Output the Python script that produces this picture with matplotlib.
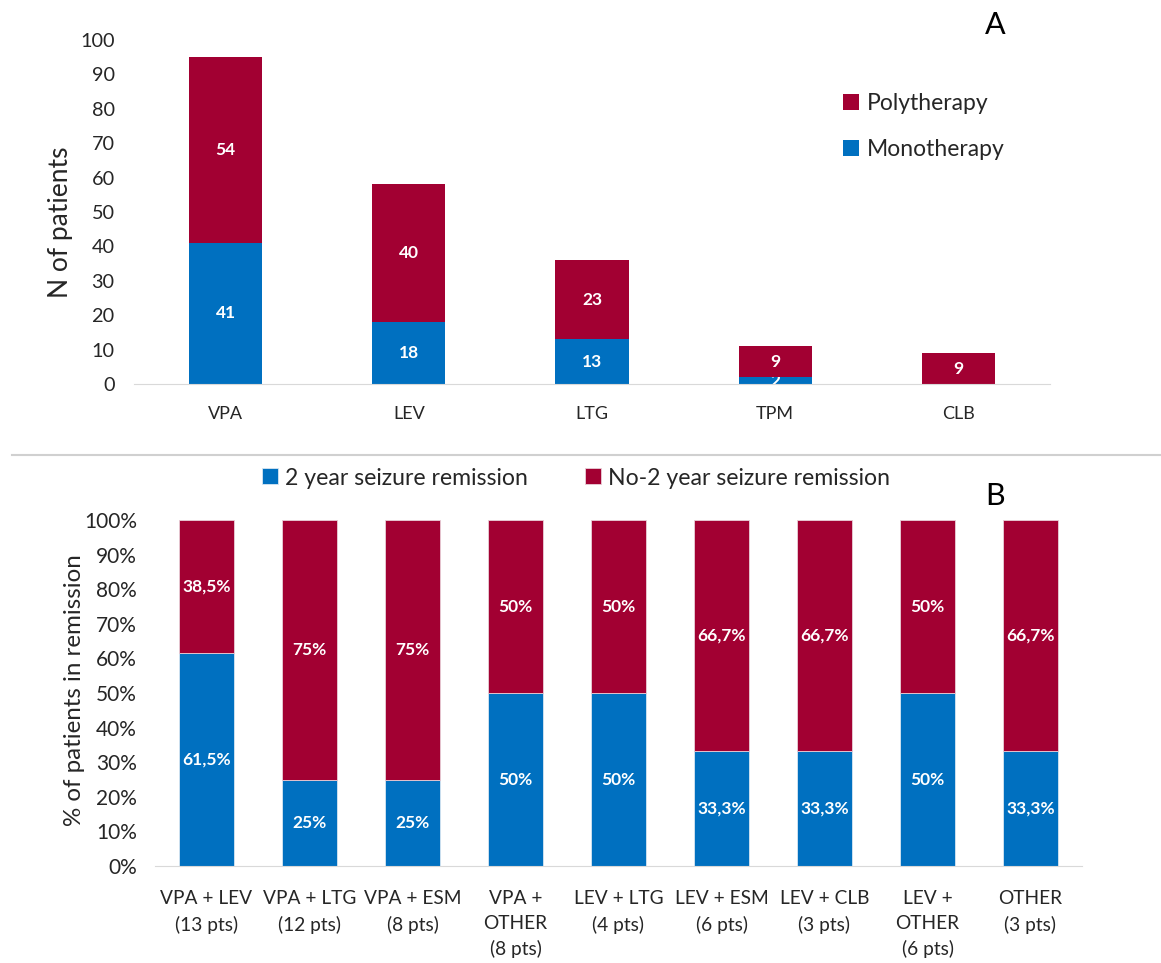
import matplotlib
matplotlib.use('Agg')
import matplotlib.pyplot as plt
from matplotlib.lines import Line2D
import numpy as np

plt.rcParams['font.family'] = ['Lato', 'DejaVu Sans']

# panel A data
drugs = ['VPA', 'LEV', 'LTG', 'TPM', 'CLB']
mono = [41, 18, 13, 2, 0]
poly = [54, 40, 23, 9, 9]

# panel B data (% with 2 year remission)
combos = ['VPA + LEV\n(13 pts)', 'VPA + LTG\n(12 pts)', 'VPA + ESM\n(8 pts)',
          'VPA +\nOTHER\n(8 pts)', 'LEV + LTG\n(4 pts)', 'LEV + ESM\n(6 pts)',
          'LEV + CLB\n(3 pts)', 'LEV +\nOTHER\n(6 pts)', 'OTHER\n(3 pts)']
remission = [61.5, 25, 25, 50, 50, 33.3, 33.3, 50, 33.3]
no_remission = [38.5, 75, 75, 50, 50, 66.7, 66.7, 50, 66.7]

BLUE = '#0070C0'
RED = '#A20032'
TXT = '#262626'

W, H = 1161, 963
fig = plt.figure(figsize=(W/100, H/100), dpi=100)

def px_axes(left, top, right, bottom):
    return fig.add_axes([left/W, 1-bottom/H, (right-left)/W, (bottom-top)/H])

def fmt(v):
    s = ('%.1f' % v).rstrip('0').rstrip('.')
    return s.replace('.', ',') + '%'

# ---- panel A ----
ax1 = px_axes(134, 40, 1050, 384)
x = np.arange(len(drugs))
b1 = ax1.bar(x, mono, 0.4, color=BLUE, zorder=1)
b2 = ax1.bar(x, poly, 0.4, bottom=mono, color=RED, zorder=2)
for i in range(len(drugs)):
    if mono[i] > 0:
        ax1.text(x[i], mono[i]/2, str(mono[i]), ha='center', va='center',
                 color='white', fontsize=12.5, fontweight='bold', zorder=1.5)
    ax1.text(x[i], mono[i] + poly[i]/2, str(poly[i]), ha='center', va='center',
             color='white', fontsize=12.5, fontweight='bold', zorder=3)
ax1.set_xlim(-0.5, len(drugs)-0.5)
ax1.set_ylim(0, 100)
ax1.set_yticks(range(0, 101, 10))
ax1.set_xticks(x)
ax1.set_xticklabels(drugs, fontsize=13)
ax1.tick_params(axis='y', labelsize=14.3, length=0, colors=TXT, pad=14)
ax1.tick_params(axis='x', length=0, colors=TXT, pad=16)
for s in ['top', 'right', 'left']:
    ax1.spines[s].set_visible(False)
ax1.spines['bottom'].set_color('#D9D9D9')
ax1.set_ylabel('N of patients', fontsize=19, color=TXT)
ax1.yaxis.set_label_coords(-0.0666, 0.471)
ax1.legend([b2, b1], ['Polytherapy', 'Monotherapy'], loc='upper left',
           bbox_to_anchor=(843/W, 1-93/H), bbox_transform=fig.transFigure,
           frameon=False, fontsize=16.5, handlelength=0.7, handleheight=0.7,
           handletextpad=0.35, labelspacing=1.1, labelcolor=TXT,
           borderpad=0, borderaxespad=0)
fig.text(995/W, 1-25/H, 'A', fontsize=22, ha='center', va='center', color='black')

# separator
fig.add_artist(Line2D([12/W, 1], [1-455/H, 1-455/H], color='#D0D0D0', lw=1.5))

# ---- panel B ----
ax2 = px_axes(155, 520, 1082, 866)
x2 = np.arange(len(combos))
c1 = ax2.bar(x2, remission, 0.54, color=BLUE, edgecolor='#D8E6F2', lw=0.6)
c2 = ax2.bar(x2, no_remission, 0.54, bottom=remission, color=RED, edgecolor='#E8D0D8', lw=0.6)
for i in range(len(combos)):
    ax2.text(x2[i], remission[i]/2, fmt(remission[i]), ha='center', va='center',
             color='white', fontsize=12.5, fontweight='bold')
    ax2.text(x2[i], remission[i] + no_remission[i]/2, fmt(no_remission[i]),
             ha='center', va='center', color='white', fontsize=12.5, fontweight='bold')
ax2.set_xlim(-0.5, len(combos)-0.5)
ax2.set_ylim(0, 100)
ax2.set_yticks(range(0, 101, 10))
ax2.set_yticklabels(['%d%%' % v for v in range(0, 101, 10)])
ax2.set_xticks(x2)
ax2.set_xticklabels(combos, fontsize=13.8, linespacing=1.55, va='top')
ax2.tick_params(axis='y', labelsize=15, length=0, colors=TXT, pad=13)
ax2.tick_params(axis='x', length=0, colors=TXT, pad=17.5)
for s in ['top', 'right', 'left']:
    ax2.spines[s].set_visible(False)
ax2.spines['bottom'].set_color('#D9D9D9')
ax2.set_ylabel('% of patients in remission', fontsize=17.4, color=TXT)
ax2.yaxis.set_label_coords(-0.0755, 0.509)
fig.legend([c1, c2], ['2 year seizure remission', 'No-2 year seizure remission'],
           loc='center', bbox_to_anchor=(576/W, 1-478/H), ncol=2, frameon=False,
           fontsize=16.6, handlelength=0.7, handleheight=0.7, handletextpad=0.3,
           columnspacing=2.5, labelcolor=TXT)
fig.text(995/W, 1-496/H, 'B', fontsize=22, ha='center', va='center', color='black')

fig.savefig('out.png', dpi=100)
